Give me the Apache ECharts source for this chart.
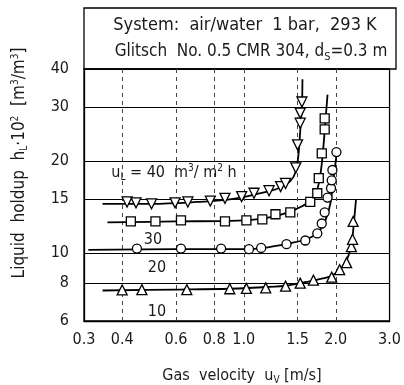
<!DOCTYPE html>
<html>
<head>
<meta charset="utf-8">
<script src="https://cdn.jsdelivr.net/npm/echarts@6/dist/echarts.min.js"></script>
<style>
  html, body { margin: 0; padding: 0; background: #fff; }
  #chart { width: 404px; height: 385px; }
</style>
</head>
<body>
<div id="chart"></div>
<script>
// tick values
const xTicks = [0.3, 0.4, 0.6, 0.8, 1.0, 1.5, 2.0, 3.0];
const xGrid = [0.4, 0.6, 0.8, 1.0, 1.5, 2.0];
const yTicks = [6, 8, 10, 15, 20, 30, 40];

// measured points (gas velocity m/s, holdup * 100)
const uL40X = [0.415, 0.444, 0.499, 0.596, 0.656, 0.777, 0.868, 0.984, 1.08, 1.21, 1.32, 1.37, 1.48, 1.50, 1.53, 1.53, 1.55];
const uL40Y = [14.7, 14.6, 14.5, 14.6, 14.7, 14.8, 15.1, 15.3, 15.7, 16.0, 16.5, 16.9, 19.0, 22.6, 26.6, 28.7, 31.2];
const uL30X = [0.427, 0.514, 0.623, 0.868, 1.02, 1.15, 1.27, 1.42, 1.65, 1.74, 1.76, 1.80, 1.84, 1.84];
const uL30Y = [12.7, 12.7, 12.8, 12.7, 12.8, 12.9, 13.4, 13.6, 14.7, 15.7, 17.6, 21.2, 25.4, 27.6];
const uL20X = [0.447, 0.623, 0.843, 1.04, 1.14, 1.38, 1.59, 1.74, 1.80, 1.84, 1.88, 1.93, 1.94, 1.95, 2.01];
const uL20Y = [10.35, 10.35, 10.35, 10.3, 10.4, 10.7, 11.0, 11.6, 12.5, 13.6, 15.2, 16.3, 17.3, 18.7, 21.4];
const uL10X = [0.40, 0.464, 0.651, 0.90, 1.02, 1.18, 1.37, 1.53, 1.69, 1.94, 2.06, 2.17, 2.25, 2.27, 2.28];
const uL10Y = [7.58, 7.6, 7.6, 7.65, 7.67, 7.7, 7.8, 7.98, 8.16, 8.35, 8.83, 9.31, 10.5, 11.1, 12.7];

// fitted curves
const fit40X = [0.345, 0.5, 0.7, 0.9, 1.1, 1.3, 1.42, 1.48, 1.51, 1.53, 1.55, 1.556];
const fit40Y = [14.5, 14.5, 14.7, 15.0, 15.6, 16.3, 17.2, 18.5, 21, 25, 30, 37];
const fit30X = [0.358, 0.6, 0.9, 1.1, 1.3, 1.45, 1.6, 1.72, 1.78, 1.82, 1.85, 1.88];
const fit30Y = [12.6, 12.7, 12.75, 12.9, 13.3, 13.8, 14.5, 15.7, 18, 22, 27, 33];
const fit20X = [0.31, 0.6, 1.0, 1.2, 1.4, 1.6, 1.75, 1.85, 1.92, 1.96, 2.0, 2.02];
const fit20Y = [10.25, 10.3, 10.3, 10.45, 10.75, 11.1, 11.7, 12.8, 14.5, 17, 20, 22];
const fit10X = [0.345, 0.6, 0.9, 1.2, 1.4, 1.6, 1.8, 1.95, 2.1, 2.2, 2.26, 2.3, 2.33];
const fit10Y = [7.55, 7.6, 7.65, 7.75, 7.85, 8.05, 8.25, 8.45, 9.0, 9.8, 11, 13, 15];

const FONT = "'Liberation Sans Narrow', 'DejaVu Sans Condensed', sans-serif";
const INK = '#1a1a1a';

function pairs(xs, ys) {
  return xs.map((x, i) => [x, ys[i]]);
}

function fitLine(xs, ys) {
  return {
    type: 'line',
    data: pairs(xs, ys),
    smooth: 0.35,
    showSymbol: false,
    symbol: 'none',
    lineStyle: { color: '#000', width: 1.8 },
    z: 2,
    silent: true
  };
}

function markers(xs, ys, symbol, size, rotate) {
  return {
    type: 'scatter',
    data: pairs(xs, ys),
    symbol: symbol,
    symbolSize: size,
    symbolRotate: rotate || 0,
    itemStyle: { color: '#fff', borderColor: '#000', borderWidth: 1.3, opacity: 1 },
    z: 3,
    silent: true
  };
}

const sub = { fontSize: 10, fontFamily: FONT, fill: INK, padding: [9, 0, 0, 0] };
const sup = { fontSize: 10, fontFamily: FONT, fill: INK, padding: [0, 0, 9, 0] };

const chart = echarts.init(document.getElementById('chart'));

chart.setOption({
  animation: false,
  backgroundColor: '#fff',
  textStyle: { fontFamily: FONT },
  grid: {
    left: 84, right: 8, top: 69, bottom: 64,
    show: true, borderColor: '#000', borderWidth: 1.3
  },
  xAxis: {
    type: 'log',
    logBase: 10,
    min: 0.3,
    max: 3.0,
    axisLine: { show: true, lineStyle: { color: '#000', width: 1.3 } },
    axisTick: { show: false, customValues: xGrid },
    axisLabel: {
      customValues: xTicks,
      formatter: v => Number(v).toFixed(1),
      color: INK, fontSize: 16, fontFamily: FONT, margin: 11
    },
    splitLine: { show: true, lineStyle: { color: '#444', width: 1, type: [4, 4] } },
    minorTick: { show: false },
    minorSplitLine: { show: false }
  },
  yAxis: {
    type: 'log',
    logBase: 10,
    min: 6,
    max: 40,
    axisLine: { show: true, lineStyle: { color: '#000', width: 1.3 } },
    axisTick: { show: false, customValues: yTicks },
    axisLabel: {
      customValues: yTicks,
      formatter: v => String(Math.round(v)),
      color: INK, fontSize: 16, fontFamily: FONT, margin: 15
    },
    splitLine: { show: true, lineStyle: { color: '#000', width: 1.2 } }
  },
  series: [
    fitLine(fit40X, fit40Y),
    fitLine(fit30X, fit30Y),
    fitLine(fit20X, fit20Y),
    fitLine(fit10X, fit10Y),
    markers(uL40X, uL40Y, 'triangle', 10, 180),
    markers(uL30X, uL30Y, 'rect', 9),
    markers(uL20X, uL20Y, 'circle', 9),
    markers(uL10X, uL10Y, 'triangle', 10)
  ],
  graphic: [
    {
      type: 'rect',
      shape: { x: 84, y: 8, width: 312, height: 61 },
      style: { fill: 'none', stroke: '#000', lineWidth: 1.3 }
    },
    {
      type: 'text', x: 245, y: 25,
      style: {
        text: 'System:  air/water  1 bar,  293 K',
        font: '18px ' + FONT, fill: INK, align: 'center', verticalAlign: 'middle'
      }
    },
    {
      type: 'text', x: 251, y: 52,
      style: {
        text: 'Glitsch  No. 0.5 CMR 304, d{s|S}=0.3 m',
        font: '17px ' + FONT, fill: INK, align: 'center', verticalAlign: 'middle',
        rich: { s: { fontSize: 11, fontFamily: FONT, fill: INK, padding: [10, 0, 0, 0] } }
      }
    },
    {
      type: 'text', x: 174, y: 173,
      style: {
        text: 'u{s|L} = 40  m{p|3}/ m{p|2} h',
        font: '16px ' + FONT, fill: INK, align: 'center', verticalAlign: 'middle',
        rich: { s: sub, p: sup }
      }
    },
    { type: 'text', x: 153, y: 240, style: { text: '30', font: '16px ' + FONT, fill: INK, align: 'center', verticalAlign: 'middle' } },
    { type: 'text', x: 157, y: 268, style: { text: '20', font: '16px ' + FONT, fill: INK, align: 'center', verticalAlign: 'middle' } },
    { type: 'text', x: 157, y: 312, style: { text: '10', font: '16px ' + FONT, fill: INK, align: 'center', verticalAlign: 'middle' } },
    {
      type: 'text', x: 20, y: 163, rotation: Math.PI / 2,
      style: {
        text: 'Liquid  holdup  h{s|L}·10{p|2}  [m{p|3}/m{p|3}]',
        font: '17px ' + FONT, fill: INK, align: 'center', verticalAlign: 'middle',
        rich: { s: sub, p: sup }
      }
    },
    {
      type: 'text', x: 242, y: 376,
      style: {
        text: 'Gas  velocity  u{s|V} [m/s]',
        font: '16px ' + FONT, fill: INK, align: 'center', verticalAlign: 'middle',
        rich: { s: sub }
      }
    }
  ]
});
</script>
</body>
</html>
